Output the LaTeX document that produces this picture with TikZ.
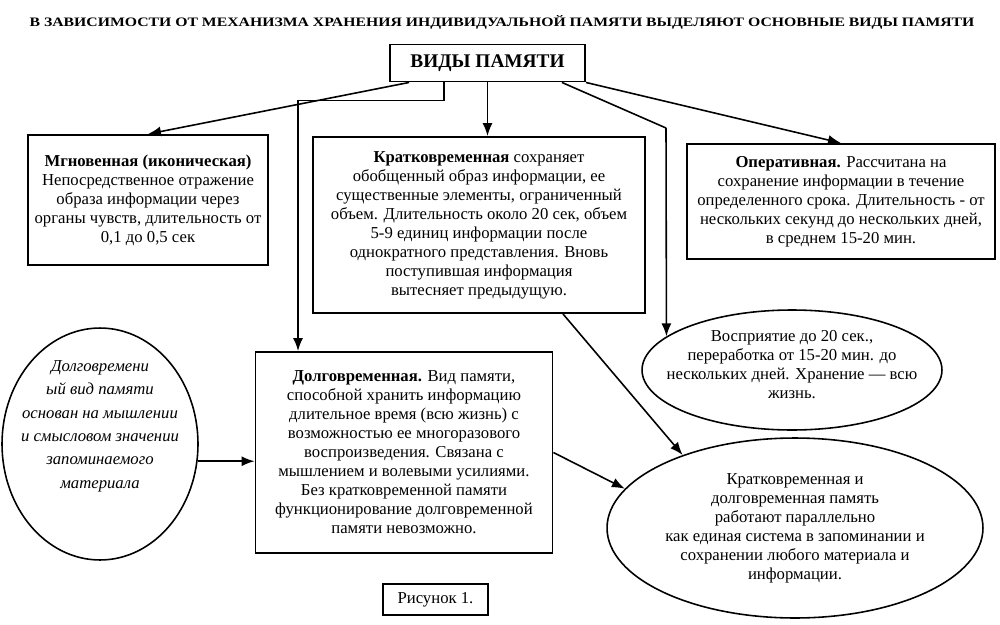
\documentclass[tikz,border=0pt]{standalone}
\usepackage{fontspec}
\setmainfont{Liberation Serif}
\usetikzlibrary{shapes.geometric}
\usetikzlibrary{arrows.meta}
\usetikzlibrary{calc}

\begin{document}
\begin{tikzpicture}[x=0.02cm, y=-0.02cm, >={Latex[length=2.6mm,width=2mm]},
    box/.style={draw, line width=1.1pt, align=center, inner sep=0pt,
      font=\fontsize{9.5}{10.8}\selectfont},
    oval/.style={draw, ellipse, line width=0.9pt, inner sep=0pt},
    ovaltext/.style={align=center, inner sep=0pt, font=\fontsize{9.5}{10.8}\selectfont},
    link/.style={->, line width=0.9pt}]
      \useasboundingbox (0,0) rectangle (1000,625);

      \node [name=title] at (502,22)
      {\resizebox{18.9cm}{0.22cm}{\bfseries В ЗАВИСИМОСТИ ОТ МЕХАНИЗМА ХРАНЕНИЯ ИНДИВИДУАЛЬНОЙ ПАМЯТИ ВЫДЕЛЯЮТ ОСНОВНЫЕ ВИДЫ ПАМЯТИ}};

      \node at (487.5,63)
      [box, minimum width=3.9cm, minimum height=0.74cm, name=vid,
       font=\fontsize{11}{13}\selectfont\bfseries]
      {ВИДЫ ПАМЯТИ};

      \node at (148,200)
      [box, minimum width=4.8cm, minimum height=2.6cm, name=mgn]
      {\textbf{Мгновенная (иконическая)}\\
       Непосредственное отражение\\
       образа информации через\\
       органы чувств, длительность от\\
       0,1 до 0,5 сек};

      \node at (479,225)
      [box, minimum width=6.64cm, minimum height=3.52cm, name=krat]
      {\textbf{Кратковременная} сохраняет\\
       обобщенный образ информации, ее\\
       существенные элементы, ограниченный\\
       объем. Длительность около 20 сек, объем\\
       5-9 единиц информации после\\
       однократного представления. Вновь\\
       поступившая информация\\
       вытесняет предыдущую.};

      \node at (841,201.5)
      [box, minimum width=6.16cm, minimum height=2.3cm, name=oper]
      {\textbf{Оперативная.} Рассчитана на\\
       сохранение информации в течение\\
       определенного срока. Длительность - от\\
       нескольких секунд до нескольких дней,\\
       в среднем 15-20 мин.};

      \node at (404,452.5)
      [box, minimum width=5.94cm, minimum height=4.02cm, name=dolg]
      {\textbf{Долговременная.} Вид памяти,\\
       способной хранить информацию\\
       длительное время (всю жизнь) с\\
       возможностью ее многоразового\\
       воспроизведения. Связана с\\
       мышлением и волевыми усилиями.\\
       Без кратковременной памяти\\
       функционирование долговременной\\
       памяти невозможно.};

      % ellipses drawn empty, their texts set on top
      \node at (100,444) [oval, minimum width=3.92cm, minimum height=4.64cm, name=lell] {};
      \node at (100,426)
      [ovaltext, font=\fontsize{9.5}{13.3}\selectfont\itshape, name=lelltext]
      {Долговремени\\
       ый вид памяти\\
       основан на мышлении\\
       и смысловом значении\\
       запоминаемого\\
       материала};

      \node at (792,370) [oval, minimum width=6cm, minimum height=2.4cm, name=vosp] {};
      \node at (792,365) [ovaltext, name=vosptext]
      {Восприятие до 20 сек.,\\
       переработка от 15-20 мин. до\\
       нескольких дней. Хранение — всю\\
       жизнь.};

      \node at (795,528) [oval, minimum width=7.52cm, minimum height=3.6cm, name=par] {};
      \node at (795,528.5) [ovaltext, name=partext]
      {Кратковременная и\\
       долговременная память\\
       работают параллельно\\
       как единая система в запоминании и\\
       сохранении любого материала и\\
       информации.};

      \node at (435.5,599.5)
      [box, line width=0.9pt, minimum width=2.1cm, minimum height=0.62cm, name=fig]
      {Рисунок 1.};

      \coordinate (bend) at (666,128);

      \draw [link] ([xshift=0.4cm]vid.south west) -- (mgn.north);
      \draw [link] ([xshift=1.1cm]vid.south west) -- ++(0,18) -| ([xshift=-2.12cm]dolg.north);
      \draw [link] (vid.south) -- (vid.south |- krat.north);
      \draw [line width=0.9pt] ([xshift=-0.48cm]vid.south east) -- (bend);
      \draw [link] (bend) -- (vosp.165);
      \draw [link] (vid.south east) -- (oper.north);
      \draw [link] ([xshift=1.68cm]krat.south) -- (par.147);
      \draw [link] (dolg.east) -- (par.167);
      \draw [link] (lell.-10) -- (lell.-10 -| dolg.west);
    \end{tikzpicture}
\end{document}
